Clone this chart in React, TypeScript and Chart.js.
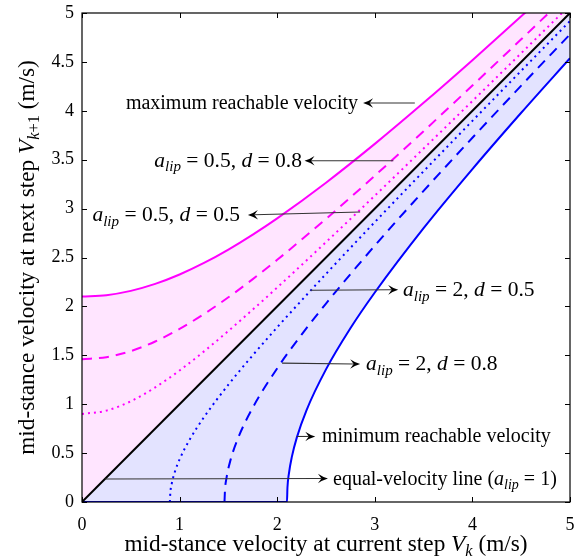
import React, { useEffect, useRef } from "react";
import { Chart, registerables } from "chart.js";

Chart.register(...registerables);

// ---------- data ----------
const upperX = [0, 0.25, 0.5, 0.75, 1, 1.25, 1.5, 1.75, 2, 2.5, 3, 3.5, 4, 4.5, 5];
const maxReachable = [2.1, 2.115, 2.159, 2.23, 2.326, 2.444, 2.581, 2.734, 2.9, 3.265, 3.662, 4.082, 4.518, 4.966, 5.423];
const upperD08 = [1.46, 1.481, 1.543, 1.641, 1.77, 1.922, 2.093, 2.279, 2.476, 2.895, 3.336, 3.792, 4.258, 4.731, 5.209];
const upperD05 = [0.9, 0.934, 1.03, 1.172, 1.345, 1.54, 1.749, 1.968, 2.193, 2.657, 3.132, 3.614, 4.1, 4.589, 5.08];

const minX = [0, 2.1, 2.105, 2.12, 2.15, 2.2, 2.3, 2.5, 2.75, 3, 3.5, 4, 4.5, 5];
const minReachable = [0, 0, 0.145, 0.291, 0.461, 0.656, 0.938, 1.356, 1.776, 2.142, 2.8, 3.404, 3.98, 4.538];
const lowD08X = [1.46, 1.465, 1.48, 1.52, 1.6, 1.75, 2, 2.25, 2.5, 3, 3.5, 4, 4.5, 5];
const lowD08 = [0, 0.121, 0.242, 0.423, 0.655, 0.965, 1.367, 1.712, 2.029, 2.621, 3.181, 3.724, 4.257, 4.782];
const lowD05X = [0.9, 0.905, 0.92, 0.95, 1.0, 1.1, 1.25, 1.5, 1.75, 2, 2.5, 3, 3.5, 4, 4.5, 5];
const lowD05 = [0, 0.095, 0.191, 0.304, 0.436, 0.632, 0.867, 1.2, 1.501, 1.786, 2.332, 2.862, 3.382, 3.897, 4.409, 4.918];

const equalX = [0, 5];
const equalY = [0, 5];

const xTicks = [0, 1, 2, 3, 4, 5];
const yTicks = [0, 0.5, 1, 1.5, 2, 2.5, 3, 3.5, 4, 4.5, 5];

type Seg = { t: string; i?: boolean; s?: boolean };

const xTitle: Seg[] = [{ t: "mid-stance velocity at current step " }, { t: "V", i: true }, { t: "k", i: true, s: true }, { t: " (m/s)" }];
const yTitle: Seg[] = [{ t: "mid-stance velocity at next step " }, { t: "V", i: true }, { t: "k", i: true, s: true }, { t: "+1", s: true }, { t: " (m/s)" }];

const alip = (a: string, d: string): Seg[] => [
  { t: "a", i: true }, { t: "lip", i: true, s: true }, { t: " = " + a + ", " }, { t: "d", i: true }, { t: " = " + d },
];

const annotations = [
  { segs: [{ t: "maximum reachable velocity" }] as Seg[], size: 20, tail: [3.41, 4.08], head: [2.88, 4.08], text: [2.828, 4.08], align: "right" },
  { segs: alip("0.5", "0.8"), size: 21.5, tail: [3.19, 3.49], head: [2.28, 3.49], text: [2.254, 3.49], align: "right" },
  { segs: alip("0.5", "0.5"), size: 21.5, tail: [2.85, 2.965], head: [1.7, 2.935], text: [1.619, 2.935], align: "right" },
  { segs: alip("2", "0.5"), size: 21.5, tail: [2.34, 2.165], head: [3.24, 2.17], text: [3.289, 2.17], align: "left" },
  { segs: alip("2", "0.8"), size: 21.5, tail: [2.05, 1.42], head: [2.85, 1.41], text: [2.91, 1.41], align: "left" },
  { segs: [{ t: "minimum reachable velocity" }] as Seg[], size: 20, tail: [2.2, 0.67], head: [2.39, 0.67], text: [2.459, 0.67], align: "left" },
  { segs: [{ t: "equal-velocity line (" }, { t: "a", i: true }, { t: "lip", i: true, s: true }, { t: " = 1)" }] as Seg[], size: 20, tail: [0.235, 0.235], head: [2.52, 0.24], text: [2.572, 0.24], align: "left" },
];

const FONT = '"Liberation Serif", "Times New Roman", serif';

const pts = (xs: number[], ys: number[]) => xs.map((x, k) => ({ x, y: ys[k] }));

function drawRich(ctx: CanvasRenderingContext2D, segs: Seg[], x: number, y: number, align: string, size: number) {
  const fontOf = (s: Seg) => `${s.i ? "italic " : ""}${s.s ? size * 0.7 : size}px ${FONT}`;
  let total = 0;
  const widths = segs.map((s) => {
    ctx.font = fontOf(s);
    const w = ctx.measureText(s.t).width;
    total += w;
    return w;
  });
  let cx = align === "right" ? x - total : align === "center" ? x - total / 2 : x;
  ctx.textAlign = "left";
  ctx.textBaseline = "alphabetic";
  segs.forEach((s, k) => {
    ctx.font = fontOf(s);
    ctx.fillText(s.t, cx, y + (s.s ? size * 0.22 : 0));
    cx += widths[k];
  });
}

const overlay = {
  id: "overlay",
  afterDatasetsDraw(chart: any) {
    const ctx: CanvasRenderingContext2D = chart.ctx;
    const { left, right, top, bottom } = chart.chartArea;
    const xs = chart.scales.x;
    const ys = chart.scales.y;
    ctx.save();
    // box
    ctx.strokeStyle = "#000";
    ctx.lineWidth = 1.2;
    ctx.strokeRect(left, top, right - left, bottom - top);
    // inward ticks
    ctx.lineWidth = 1;
    const tl = 5;
    ctx.beginPath();
    xTicks.forEach((v) => {
      const px = Math.round(xs.getPixelForValue(v)) + 0.5;
      ctx.moveTo(px, bottom); ctx.lineTo(px, bottom - tl);
      ctx.moveTo(px, top); ctx.lineTo(px, top + tl);
    });
    yTicks.forEach((v) => {
      const py = Math.round(ys.getPixelForValue(v)) + 0.5;
      ctx.moveTo(left, py); ctx.lineTo(left + tl, py);
      ctx.moveTo(right, py); ctx.lineTo(right - tl, py);
    });
    ctx.stroke();

    // annotations
    annotations.forEach((a) => {
      const x0 = xs.getPixelForValue(a.tail[0]);
      const y0 = ys.getPixelForValue(a.tail[1]);
      const x1 = xs.getPixelForValue(a.head[0]);
      const y1 = ys.getPixelForValue(a.head[1]);
      const ang = Math.atan2(y1 - y0, x1 - x0);
      const L = 10, W = 4.8, N = 6.5;
      ctx.strokeStyle = "#333";
      ctx.lineWidth = 1.1;
      ctx.beginPath();
      ctx.moveTo(x0, y0);
      ctx.lineTo(x1 - Math.cos(ang) * N, y1 - Math.sin(ang) * N);
      ctx.stroke();
      ctx.save();
      ctx.translate(x1, y1);
      ctx.rotate(ang);
      ctx.fillStyle = "#000";
      ctx.beginPath();
      ctx.moveTo(0, 0);
      ctx.quadraticCurveTo(-L * 0.55, -W * 0.35, -L, -W);
      ctx.lineTo(-N, 0);
      ctx.lineTo(-L, W);
      ctx.quadraticCurveTo(-L * 0.55, W * 0.35, 0, 0);
      ctx.closePath();
      ctx.fill();
      ctx.restore();
      ctx.fillStyle = "#000";
      drawRich(ctx, a.segs, xs.getPixelForValue(a.text[0]), ys.getPixelForValue(a.text[1]) + 6, a.align, a.size);
    });

    // axis titles
    ctx.fillStyle = "#000";
    drawRich(ctx, xTitle, (left + right) / 2, 551, "center", 23.3);
    ctx.save();
    ctx.translate(34, (top + bottom) / 2);
    ctx.rotate(-Math.PI / 2);
    drawRich(ctx, yTitle, 0, 0, "center", 23.3);
    ctx.restore();
    ctx.restore();
  },
};

export default function App() {
  const ref = useRef<HTMLCanvasElement>(null);
  useEffect(() => {
    if (!ref.current) return;
    const magenta = "#ff00ff";
    const blue = "#0000ff";
    const chart = new Chart(ref.current, {
      type: "line",
      data: {
        datasets: [
          { label: "equal", data: pts(equalX, equalY), borderColor: "#000", borderWidth: 2, fill: false, tension: 0 },
          { label: "max", data: pts(upperX, maxReachable), borderColor: magenta, borderWidth: 2, fill: "-1", backgroundColor: "rgba(255,0,255,0.1)", cubicInterpolationMode: "monotone" },
          { label: "min", data: pts(minX, minReachable), borderColor: blue, borderWidth: 2, fill: "-2", backgroundColor: "rgba(0,0,255,0.11)", cubicInterpolationMode: "monotone" },
          { label: "u08", data: pts(upperX, upperD08), borderColor: magenta, borderWidth: 2, borderDash: [10, 7], fill: false, cubicInterpolationMode: "monotone" },
          { label: "u05", data: pts(upperX, upperD05), borderColor: magenta, borderWidth: 2, borderDash: [2, 4], fill: false, cubicInterpolationMode: "monotone" },
          { label: "l08", data: pts(lowD08X, lowD08), borderColor: blue, borderWidth: 2, borderDash: [10, 7], fill: false, cubicInterpolationMode: "monotone" },
          { label: "l05", data: pts(lowD05X, lowD05), borderColor: blue, borderWidth: 2, borderDash: [2, 4], fill: false, cubicInterpolationMode: "monotone" },
        ],
      } as any,
      options: {
        animation: false,
        responsive: false,
        layout: { padding: { top: 13, right: 13, left: 0, bottom: 0 } },
        elements: { point: { radius: 0 } },
        plugins: {
          legend: { display: false },
          tooltip: { enabled: false },
          filler: { drawTime: "beforeDatasetsDraw" },
        } as any,
        scales: {
          x: {
            type: "linear",
            min: 0,
            max: 5,
            ticks: { stepSize: 1, color: "#000", padding: 12, maxRotation: 0, font: { family: FONT, size: 18 }, callback: (v: any) => String(v) },
            grid: { display: false, drawTicks: false },
            border: { display: false },
            afterFit: (s: any) => { s.height = 58; s.paddingLeft = 0; s.paddingRight = 0; },
          },
          y: {
            type: "linear",
            min: 0,
            max: 5,
            ticks: { stepSize: 0.5, color: "#000", padding: 8, font: { family: FONT, size: 18 }, callback: (v: any) => String(v) },
            grid: { display: false, drawTicks: false },
            border: { display: false },
            afterFit: (s: any) => { s.width = 82; s.paddingTop = 0; s.paddingBottom = 0; },
          },
        },
      } as any,
      plugins: [overlay],
    });
    return () => chart.destroy();
  }, []);
  return (
    <div style={{ position: "absolute", left: 0, top: 0, width: 583, height: 560, background: "#fff" }}>
      <canvas ref={ref} width={583} height={560} style={{ display: "block" }} />
    </div>
  );
}
